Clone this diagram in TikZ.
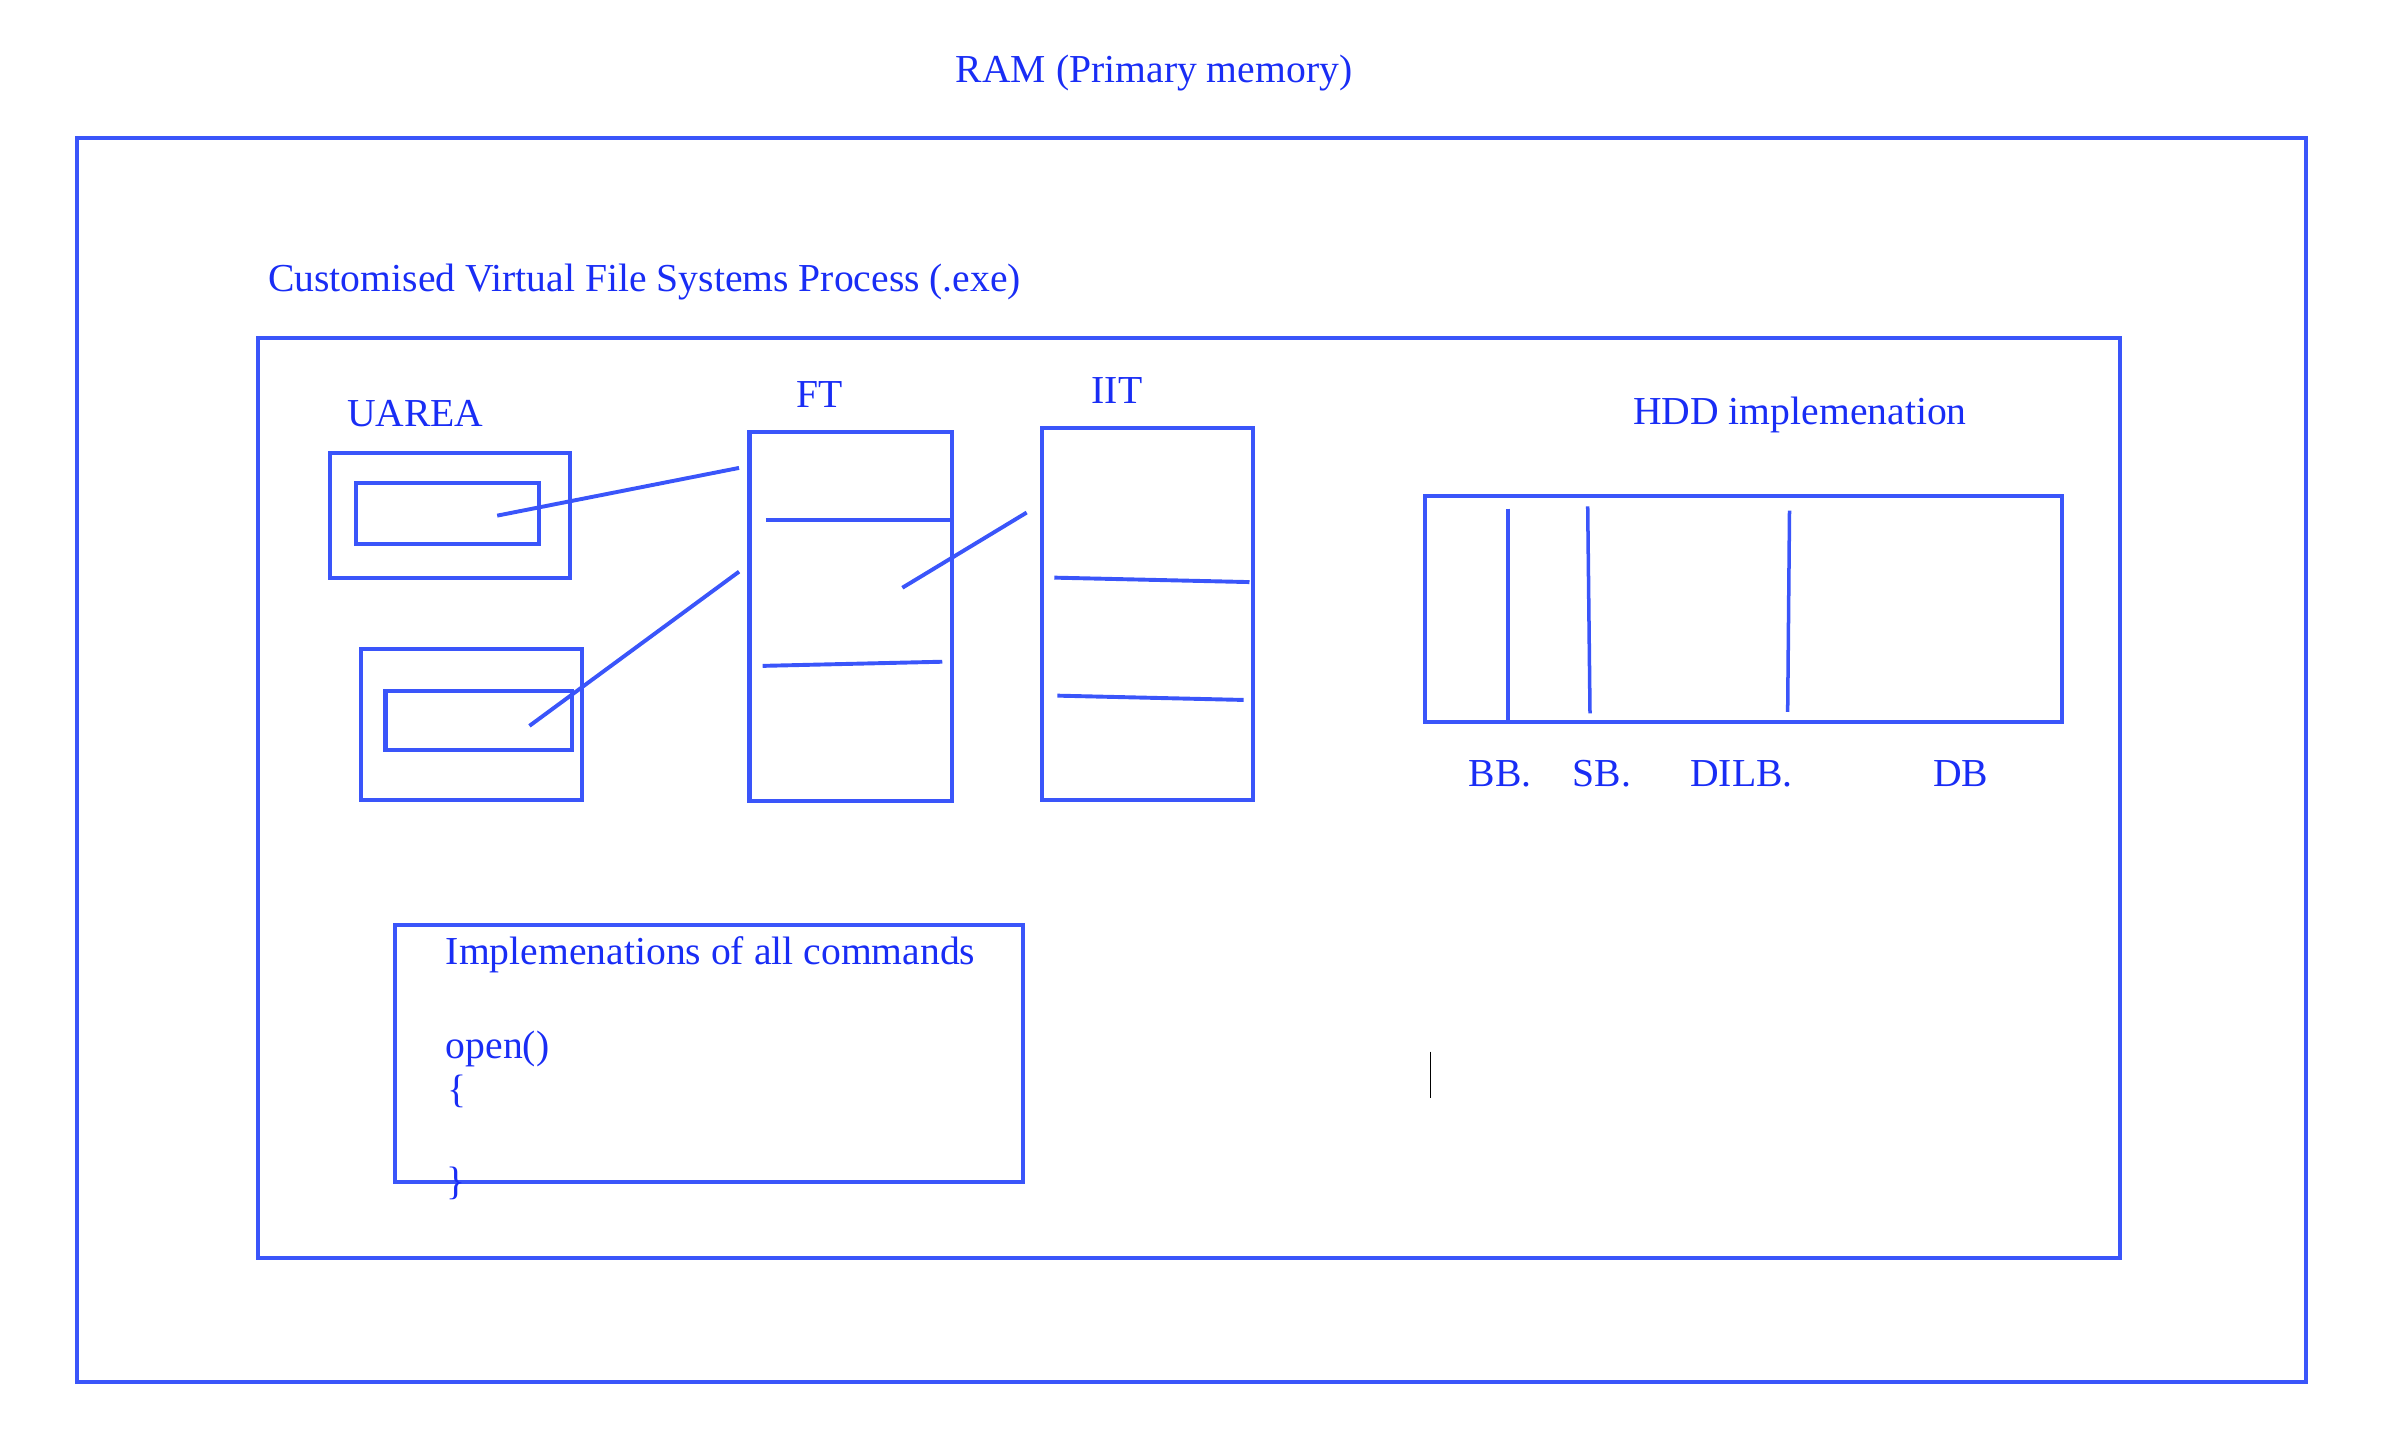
\documentclass[tikz,border=0pt]{standalone}
\usepackage{fontspec}
\setmainfont{Liberation Serif}
\usetikzlibrary{fit}
\definecolor{penblue}{RGB}{58,85,250}
\definecolor{inkblue}{RGB}{25,45,245}

\begin{document}
\begin{tikzpicture}[
    x=0.02cm, y=-0.02cm, line width=1.5pt, font=\fontsize{14.7}{17}\selectfont,
    box/.style={draw=penblue, fit={#1}, inner sep=0, outer sep=0},
    tag/.style={text=inkblue, inner sep=0, anchor=base west},
    link/.style={draw=penblue, line width=1.45pt},
    split/.style={draw=penblue, line width=1.3pt},
  ]
  \useasboundingbox (0,0) rectangle (1560,939.7);

  \node[tag] (ramlabel) at (621.6,53.9) {RAM (Primary memory)};
  \node[box={(49.9,89.8) (1502.6,900.3)}] (ram) {};

  \node[tag] (proclabel) at (173.5,190) {Customised Virtual File Systems Process (.exe)};
  \node[box={(168.2,220.2) (1381.5,819.6)}] (proc) {};

  \node[tag] (ualabel) at (224.8,278) {UAREA};
  \node[box={(214.9,295.3) (371.4,376.7)}] (uaa) {};
  \node[box={(231.8,315) (351,354.6)}] (uaain) {};
  \node[box={(235.3,423.1) (379.2,521.4)}] (uab) {};
  \node[box={(251.2,450) (373,488.7)}] (uabin) {};

  \node[tag] (ftlabel) at (517.4,265.7) {FT};
  \node[box={(488.4,281.3) (620.2,521.8)}] (ft) {};
  \draw[link] (499,338.7) -- (ft.east |- 0,338.7);
  \draw[link] (497,433.9) -- (614,431.2);

  \node[tag] (iitlabel) at (710,263) {IIT};
  \node[box={(678.7,279) (816.6,521.2)}] (iit) {};
  \draw[link] (687,376.4) -- (814.2,379.3);
  \draw[link] (689,453.3) -- (810.4,456.1);

  \coordinate (uaaptr) at (324,336);
  \coordinate (uabptr) at (345,473);
  \coordinate (ftin) at (481.6,304.9);
  \coordinate (ftinb) at (481.6,372.5);
  \coordinate (ftptr) at (588,383);
  \coordinate (iitin) at (669,334);
  \draw[link] (uaaptr) -- (ftin);
  \draw[link] (uabptr) -- (ftinb);
  \draw[link] (ftptr) -- (iitin);

  \node[tag] (hddlabel) at (1062.9,276.5) {HDD implemenation};
  \node[box={(928.4,323.2) (1343.8,470.3)}] (hdd) {};
  \draw[split] (982.5,331.4) -- (982.5,470.3);
  \draw[split] (1034.6,330) -- (1036.1,464.8);
  \draw[split] (1166.1,332.7) -- (1164.9,463.9);
  \node[tag] (bb) at (955.7,512.7) {BB.};
  \node[tag] (sb) at (1023.6,512.7) {SB.};
  \node[tag] (dilb) at (1100.1,512.7) {DILB.};
  \node[tag] (db) at (1258.4,512.7) {DB};

  \node[box={(257.3,603) (666.9,770.1)}] (impl) {};
  \node[tag] (impltitle) at (289.2,628.2) {Implemenations of all commands};
  \node[tag] (implopen) at (289.2,689.7) {open()};
  \node[tag] (implbegin) at (290.5,718.4) {\{};
  \node[tag] (implend) at (289.5,778.4) {\}};

  \draw[black, line width=0.5pt] (932.2,685.2) -- (932.2,715.2);
\end{tikzpicture}
\end{document}
